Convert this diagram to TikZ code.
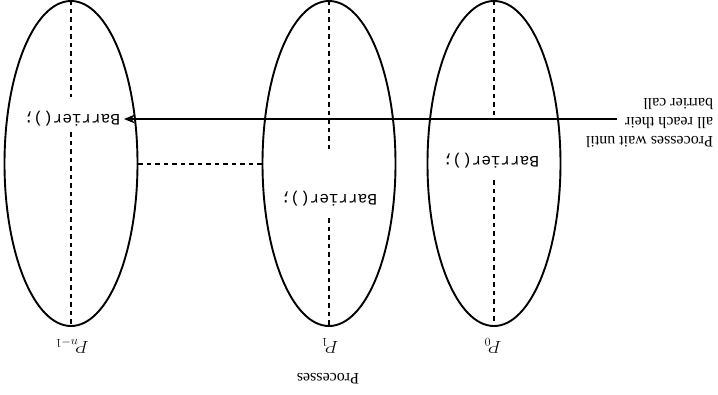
\documentclass[tikz,border=0pt]{standalone}
\usepackage{fontspec}
\setmainfont{Liberation Serif}
\setmonofont{Liberation Mono}
\usetikzlibrary{shapes.geometric,arrows.meta}
\begin{document}
\begin{tikzpicture}[x=1pt,y=-1pt,
 proc/.style={ellipse,draw,line width=1.9pt,minimum width=133pt,minimum height=325pt,inner sep=0pt},
 vdash/.style={line width=2pt,dash pattern=on 4.5pt off 4pt},
 lbl/.style={rotate=180,font=\fontsize{16}{18}\selectfont,inner sep=0pt},
 code/.style={rotate=180,font=\ttfamily\fontsize{16}{18}\selectfont,inner sep=0pt}]
\useasboundingbox (0,0) rectangle (718,394);
\node[proc] (pn) at (71,163.5) {};
\node[proc] (p1) at (329,163.5) {};
\node[proc] (p0) at (494,163.5) {};
% dotted lines with gaps
\coordinate (pnA) at (71,97);
\coordinate (pnB) at (71,132);
\coordinate (p1A) at (329,150);
\coordinate (p1B) at (329,218);
\coordinate (p0A) at (494,119);
\coordinate (p0B) at (494,180);
\draw[vdash] (pn.north) -- (pnA);
\draw[vdash] (pnB) -- (pn.south);
\draw[vdash] (p1.north) -- (p1A);
\draw[vdash] (p1B) -- (p1.south);
\draw[vdash] (p0.north) -- (p0A);
\draw[vdash] (p0B) -- (p0.south);
\draw[vdash] (pn.east) -- (p1.west);
\node[code] (bn) at (72,119) {Barrier();};
\node[code] (b1) at (329,199) {Barrier();};
\node[code] (b0) at (491,161) {Barrier();};
\coordinate (src) at (617,119);
\coordinate (tip) at (124,119);
\draw[line width=2.2pt,-{Stealth[length=11pt,width=9pt]}] (src) -- (tip);
\node[lbl,align=left,font=\fontsize{16}{19}\selectfont] (note) at (649.5,123) {Processes wait until\\all reach their\\barrier call};
\node[lbl,font=\fontsize{17}{19}\selectfont] (ln) at (72,346) {$P_{n-1}$};
\node[lbl,font=\fontsize{17}{19}\selectfont] (l1) at (330,346) {$P_1$};
\node[lbl,font=\fontsize{17}{19}\selectfont] (l0) at (493,346) {$P_0$};
\node[lbl] (title) at (328,379) {Processes};
\end{tikzpicture}
\end{document}
